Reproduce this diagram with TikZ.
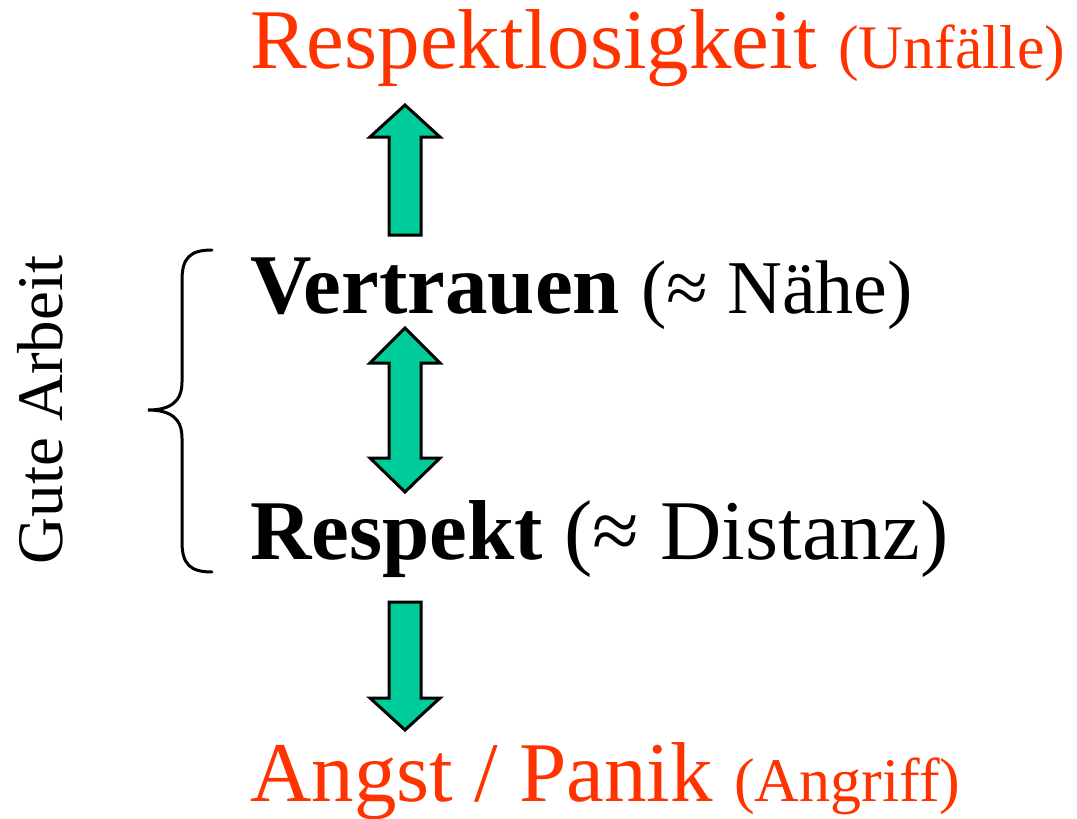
\documentclass[tikz,border=0pt]{standalone}
\usepackage{fontspec}
\setmainfont{Liberation Serif}
\usetikzlibrary{positioning}
\newcommand{\notesize}{\fontsize{62}{66}\selectfont}
\newcommand{\midsize}{\fontsize{76}{80}\selectfont}

\begin{document}
\begin{tikzpicture}
            [x=1pt, y=-1pt,
            border/.style={line width=3pt, line join=miter},
            blockarrow/.style={border, fill=arrowcolor},
            big/.style={inner sep=0pt, anchor=base west, font=\fontsize{85}{90}\selectfont},
            ]
            \definecolor{warncolor}{HTML}{FF3300}
            \definecolor{arrowcolor}{HTML}{00CC99}
            \useasboundingbox (0,0) rectangle (1077,819);

            % words
            \node[big, warncolor] (loss) at (250,68) {Respektlosigkeit {\notesize(Unfälle)}};
            \node[big] (trust) at (250,313) {\textbf{Vertrauen} {\midsize(≈ Nähe)}};
            \node[big] (resp) at (250,559) {\textbf{Respekt} (≈ Distanz)};
            \node[big, warncolor] (fear) at (250,801) {Angst / Panik {\notesize(Angriff)}};
            \node[inner sep=0pt, anchor=base, rotate=90, font=\fontsize{65}{70}\selectfont]
                (work) at (62,410) {Gute Arbeit};

            % brace
            \draw[border, line cap=round] (212,250) .. controls (190,250) and (182,258) .. (182,280)
                -- (182,382) .. controls (182,402) and (170,410) .. (148,410)
                .. controls (170,410) and (182,418) .. (182,438)
                -- (182,542) .. controls (182,564) and (190,572) .. (212,572);

            % up arrow
            \begin{scope}[shift={(405,0)}]
                \draw[blockarrow] (-16,235) -- (-16,137) -- (-35,137) -- (0,105)
                    -- (35,137) -- (16,137) -- (16,235) -- cycle;
            \end{scope}

            % double arrow
            \begin{scope}[shift={(405,0)}]
                \draw[blockarrow] (0,328) -- (35,363) -- (16,363) -- (16,458) -- (35,458)
                    -- (0,492) -- (-35,458) -- (-16,458) -- (-16,363) -- (-35,363) -- cycle;
            \end{scope}

            % down arrow
            \begin{scope}[shift={(405,0)}]
                \draw[blockarrow] (-16,602) -- (16,602) -- (16,698) -- (35,698) -- (0,730)
                    -- (-35,698) -- (-16,698) -- cycle;
            \end{scope}
        \end{tikzpicture}
\end{document}
